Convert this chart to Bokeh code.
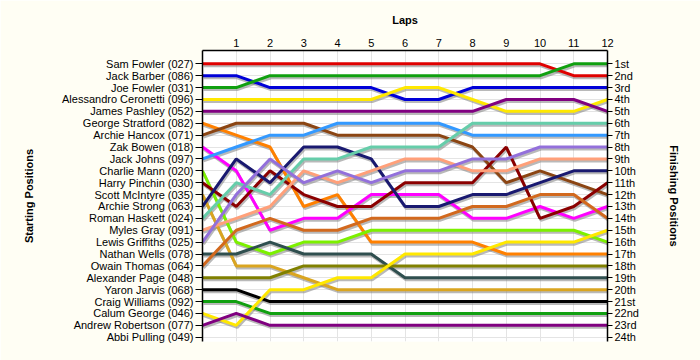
from bokeh.plotting import figure
from bokeh.models import Range1d, LinearAxis, FixedTicker
from bokeh.embed import file_html
from bokeh.resources import INLINE

laps = list(range(13))

drivers = [
    "Sam Fowler (027)", "Jack Barber (086)", "Joe Fowler (031)",
    "Alessandro Ceronetti (096)", "James Pashley (052)", "George Stratford (082)",
    "Archie Hancox (071)", "Zak Bowen (018)", "Jack Johns (097)",
    "Charlie Mann (020)", "Harry Pinchin (030)", "Scott McIntyre (035)",
    "Archie Strong (063)", "Roman Haskett (024)", "Myles Gray (091)",
    "Lewis Griffiths (025)", "Nathan Wells (078)", "Owain Thomas (064)",
    "Alexander Page (048)", "Yaron Jarvis (068)", "Craig Williams (092)",
    "Calum George (046)", "Andrew Robertson (077)", "Abbi Pulling (049)",
]

finish_labels = [
    "1st", "2nd", "3rd", "4th", "5th", "6th", "7th", "8th", "9th", "10th",
    "11th", "12th", "13th", "14th", "15th", "16th", "17th", "18th", "19th",
    "20th", "21st", "22nd", "23rd", "24th",
]

# position at laps 0..12 for each driver (None = no data)
positions = [
    [1, 1, 1, 1, 1, 1, 1, 1, 1, 1, 1, 2, 2],
    [2, 2, 3, 3, 3, 3, 4, 4, 3, 3, 3, 3, 3],
    [3, 3, 2, 2, 2, 2, 2, 2, 2, 2, 2, 1, 1],
    [4, 4, 4, 4, 4, 4, 3, 3, 4, 5, 5, 5, 4],
    [5, 5, 5, 5, 5, 5, 5, 5, 5, 4, 4, 4, 5],
    [6, 7, 8, 13, 12, 16, 16, 16, 16, 17, 17, 17, 17],
    [7, 6, 6, 6, 7, 7, 7, 7, 8, 11, 10, 11, 12],
    [8, 10, 15, 14, 14, 12, 12, 12, 14, 14, 13, 14, 13],
    [9, 8, 7, 7, 6, 6, 6, 6, 7, 7, 7, 7, 7],
    [10, 16, 17, 16, 16, 15, 15, 15, 15, 15, 15, 15, 16],
    [11, 13, 10, 12, 13, 13, 11, 11, 11, 8, 14, 13, 11],
    [12, 18, 18, 19, 20, 20, 20, 20, 20, 20, 20, 20, 20],
    [13, 9, 11, 8, 8, 9, 13, 13, 12, 12, 11, 10, 10],
    [14, 11, 12, 9, 9, 8, 8, 8, 6, 6, 6, 6, 6],
    [15, 14, 13, 10, 11, 10, 9, 9, 10, 10, 9, 9, 9],
    [16, 12, 9, 11, 10, 11, 10, 10, 9, 9, 8, 8, 8],
    [17, 17, 16, 17, 17, 17, 19, 19, 19, 19, 19, 19, 19],
    [18, 15, 14, 15, 15, 14, 14, 14, 13, 13, 12, 12, 14],
    [19, 19, 19, 18, 18, 18, 18, 18, 18, 18, 18, 18, 18],
    [20, 20, 21, 21, 21, 21, 21, 21, 21, 21, 21, 21, 21],
    [21, 21, 22, 22, 22, 22, 22, 22, 22, 22, 22, 22, 22],
    [22, 23, 20, 20, 19, 19, 17, 17, 17, 16, 16, 16, 15],
    [23, 22, 23, 23, 23, 23, 23, 23, 23, 23, 23, 23, 23],
    None,
]

colors = [
    "#E00000", "#0000D8", "#10A010", "#FFE800", "#800080", "#FF8000",
    "#8B4513", "#FF00FF", "#3399FF", "#7CF000", "#8B0000", "#DAA520",
    "#191970", "#66CDAA", "#FFA07A", "#9370DB", "#2F4F4F", "#D2691E",
    "#808000", "#000000", "#10A010", "#FFE800", "#800080", "#FFFFFF",
]

FONT = "Liberation Sans"
BG = "#FFFEF4"

p = figure(
    width=700, height=360,
    x_range=Range1d(0, 12), y_range=Range1d(24.36, -0.12),
    x_axis_location="above",
    output_backend="svg", toolbar_location=None,
    min_border_left=202, min_border_right=93,
    min_border_top=50, min_border_bottom=19,
)
p.background_fill_color = "white"
p.border_fill_color = BG
p.outline_line_color = None

# grids
p.xgrid.ticker = FixedTicker(ticks=list(range(1, 13)))
p.ygrid.ticker = FixedTicker(ticks=list(range(1, 25)))
p.xgrid.grid_line_color = "#E4E4E4"
p.ygrid.grid_line_color = "#E4E4E4"

# shadows first
for pos in positions:
    if pos is None:
        continue
    p.line([x + 0.03 for x in laps], [y + 0.17 for y in pos],
           line_color="#808080", line_alpha=0.55, line_width=3)
for pos, c in zip(positions, colors):
    if pos is None:
        continue
    p.line(laps, pos, line_color=c, line_width=3)

def style_axis(ax):
    ax.major_label_text_font = FONT
    ax.major_label_text_font_size = "11px"
    ax.major_label_text_color = "#000000"
    ax.axis_label_text_font = FONT
    ax.axis_label_text_font_size = "11px"
    ax.axis_label_text_font_style = "bold"
    ax.axis_label_text_color = "#000000"
    ax.axis_line_color = "#000000"
    ax.axis_line_width = 1.5
    ax.major_tick_line_color = "#000000"
    ax.minor_tick_line_color = None
    ax.major_tick_in = 0

# top axis
xa = p.xaxis[0]
style_axis(xa)
xa.ticker = FixedTicker(ticks=list(range(1, 13)))
xa.axis_label = "Laps"
xa.major_tick_out = 0
xa.major_label_standoff = 4
xa.axis_label_standoff = 10

# left axis
ya = p.yaxis[0]
style_axis(ya)
ya.ticker = FixedTicker(ticks=list(range(1, 25)))
ya.major_label_overrides = {i + 1: n for i, n in enumerate(drivers)}
ya.axis_label = "Starting Positions"
ya.major_tick_out = 7
ya.major_label_standoff = 2
ya.axis_label_standoff = 24

# right axis
ra = LinearAxis(ticker=FixedTicker(ticks=list(range(1, 25))))
style_axis(ra)
ra.major_label_overrides = {i + 1: n for i, n in enumerate(finish_labels)}
ra.axis_label = "Finishing Positions"
ra.major_tick_out = 5
ra.major_label_standoff = 2
ra.axis_label_standoff = 26
p.add_layout(ra, "right")

open("out.html", "w").write(file_html(p, INLINE))
